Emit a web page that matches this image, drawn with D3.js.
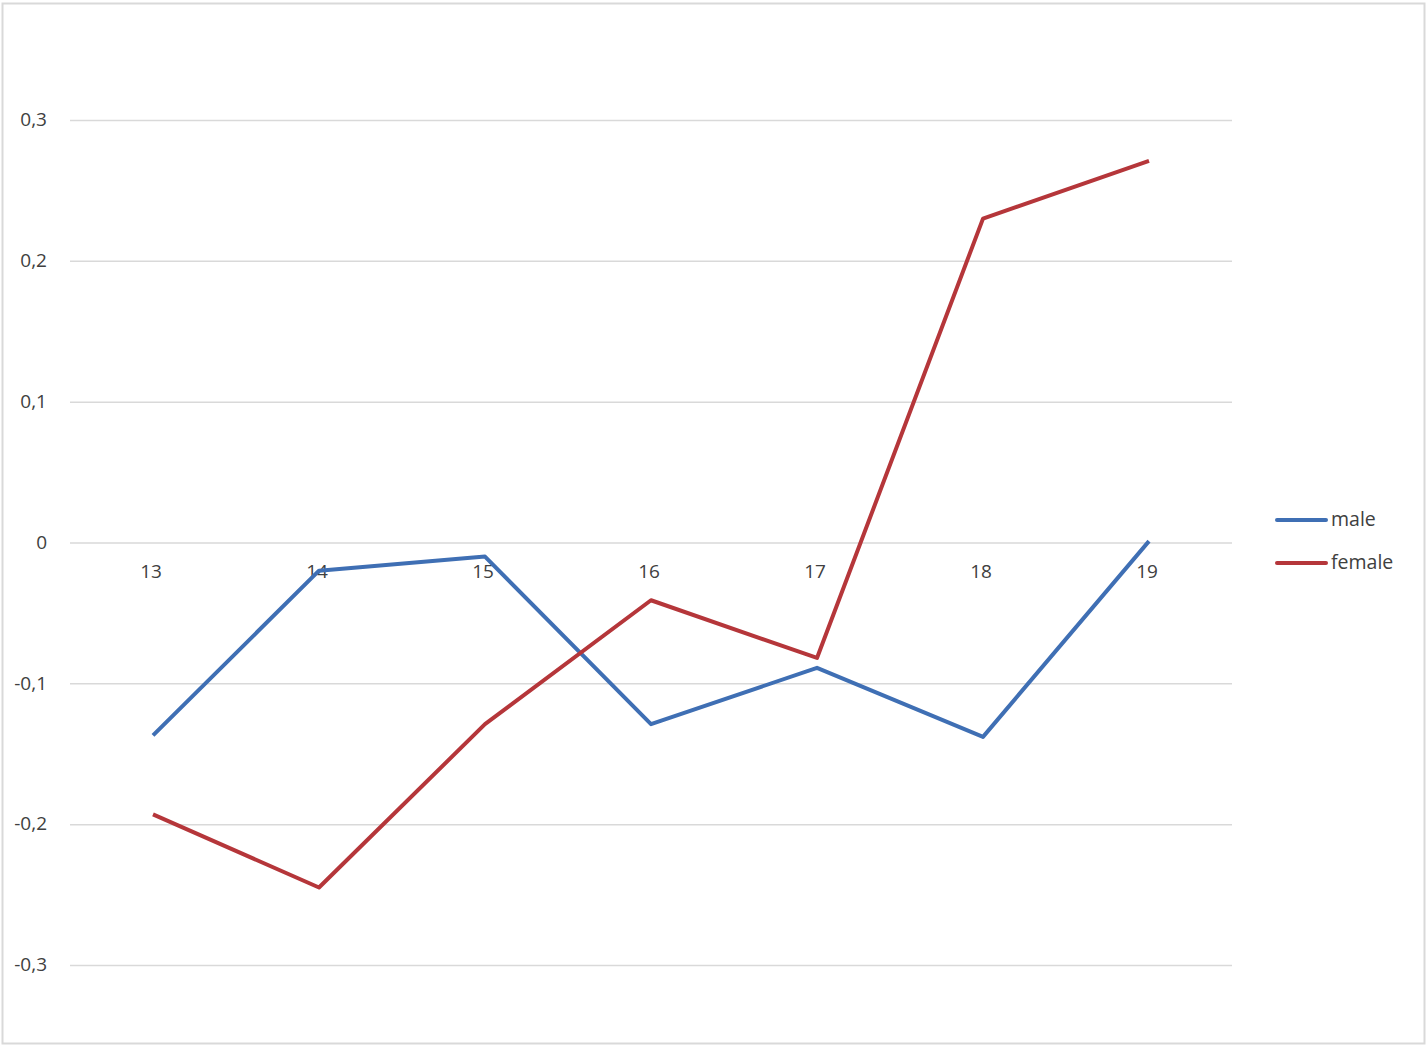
<!DOCTYPE html>
<html><head><meta charset="utf-8">
<script src="https://cdn.jsdelivr.net/npm/d3@7"></script>
<style>body{margin:0;background:#fff;} text{font-family:"Open Sans","Noto Sans",sans-serif;}</style>
</head><body>
<svg id="chart" width="1427" height="1055"></svg>
<script>
const categories = ["13","14","15","16","17","18","19"];
const maleValues = [-0.137, -0.020, -0.010, -0.129, -0.089, -0.138, 0.001];
const femaleValues = [-0.193, -0.245, -0.129, -0.041, -0.082, 0.230, 0.271];
const yTicks = [-0.3, -0.2, -0.1, 0, 0.1, 0.2, 0.3];
const yTickLabels = ["-0,3","-0,2","-0,1","0","0,1","0,2","0,3"];
const seriesNames = ["male","female"];
const colors = ["#3f6fb4","#b5363a"];

(function(){
const svg = d3.select("#chart");
svg.append("rect").attr("x",2.5).attr("y",3.5).attr("width",1422).attr("height",1040)
  .attr("fill","#fff").attr("stroke","#d9d9d9").attr("stroke-width",2);

const mLeft = 70, mRight = 1232, mTop = 120, mBottom = 965;
const x = d3.scaleBand().domain(categories).range([mLeft,mRight]);
const y = d3.scaleLinear().domain([-0.3,0.3]).range([mBottom,mTop]);

const g = svg.append("g");
const yAxis = d3.axisLeft(y).tickValues(yTicks).tickSize(-(mRight-mLeft))
  .tickFormat((d,i)=>yTickLabels[i]);
const ya = g.append("g").attr("transform",`translate(${mLeft},0)`).call(yAxis);
ya.select(".domain").remove();
ya.selectAll(".tick line").attr("stroke","#d9d9d9").attr("stroke-width",1.5);
ya.selectAll(".tick text").attr("x",-23).attr("font-size",19).attr("fill","#404040")
  .attr("text-anchor","end").attr("dy","0.3em");

const xAxis = d3.axisBottom(x).tickSize(0);
const xa = g.append("g").attr("transform",`translate(0,${y(0)})`).call(xAxis);
xa.select(".domain").remove();
xa.selectAll(".tick text").attr("font-size",19).attr("fill","#404040")
  .attr("y",29).attr("dy","0.35em").attr("dx",-2);

const line = d3.line().x((d,i)=>x(categories[i])+x.bandwidth()/2).y(d=>y(d));
[maleValues,femaleValues].forEach((vals,k)=>{
  g.append("path").datum(vals).attr("d",line).attr("fill","none")
   .attr("stroke",colors[k]).attr("stroke-width",4).attr("stroke-linejoin","round");
});

const leg = svg.append("g");
seriesNames.forEach((n,k)=>{
  const ly = 520 + k*43;
  leg.append("line").attr("x1",1277).attr("x2",1326).attr("y1",ly).attr("y2",ly)
    .attr("stroke",colors[k]).attr("stroke-width",4).attr("stroke-linecap","round");
  leg.append("text").attr("x",1331).attr("y",ly).attr("dy","0.33em").attr("font-size",19.5)
    .attr("fill","#404040").text(n);
});
})();
</script>
</body></html>
